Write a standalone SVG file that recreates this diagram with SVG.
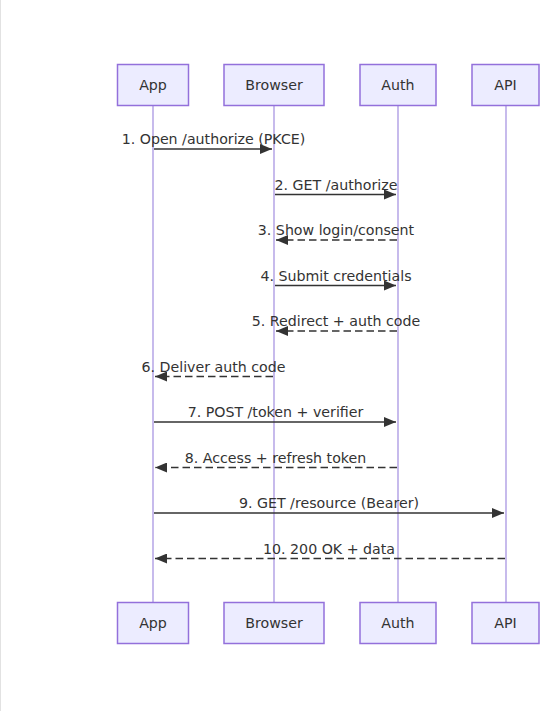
<svg xmlns="http://www.w3.org/2000/svg" width="560" height="711" viewBox="0 0 560 711">
<style>
.bg{fill:#ffffff}
.actor rect{fill:#ECECFF;stroke:#9370DB;stroke-width:1.5}
.actor text{font-family:"DejaVu Sans",Verdana,sans-serif;font-size:14.2px;fill:#333;text-anchor:middle;dominant-baseline:central}
.life{stroke:#a28de0;stroke-width:1.2}
.msg{stroke:#333;stroke-width:1.5;fill:none}
.dash{stroke-dasharray:7.5,4}
.lbl{font-family:"DejaVu Sans",Verdana,sans-serif;font-size:14.2px;fill:#333;text-anchor:middle}
</style>
<defs>
<marker id="arrow" viewBox="0 0 12 10" refX="12" refY="5" markerWidth="13" markerHeight="10" markerUnits="userSpaceOnUse" orient="auto">
<path d="M0,0 L12,5 L0,10 z" fill="#333"/>
</marker>
</defs>
<rect class="bg" x="0" y="0" width="560" height="711"/>
<line x1="0.5" y1="0" x2="0.5" y2="711" stroke="#e2e2e2" stroke-width="1"/>
<g id="lifelines">
<line class="life" x1="153" y1="105" x2="153" y2="602"/>
<line class="life" x1="274" y1="105" x2="274" y2="602"/>
<line class="life" x1="398" y1="105" x2="398" y2="602"/>
<line class="life" x1="506" y1="105" x2="506" y2="602"/>
</g>
<g id="app" class="actor"><rect x="117.5" y="64.5" width="71" height="41"/><text x="153" y="85">App</text></g>
<g id="browser" class="actor"><rect x="224" y="64.5" width="100" height="41"/><text x="274" y="85">Browser</text></g>
<g id="auth" class="actor"><rect x="360" y="64.5" width="76" height="41"/><text x="398" y="85">Auth</text></g>
<g id="api" class="actor"><rect x="472" y="64.5" width="67" height="41"/><text x="505.5" y="85">API</text></g>
<g id="app-bottom" class="actor"><rect x="117.5" y="602.5" width="71" height="41"/><text x="153" y="623">App</text></g>
<g id="browser-bottom" class="actor"><rect x="224" y="602.5" width="100" height="41"/><text x="274" y="623">Browser</text></g>
<g id="auth-bottom" class="actor"><rect x="360" y="602.5" width="76" height="41"/><text x="398" y="623">Auth</text></g>
<g id="api-bottom" class="actor"><rect x="472" y="602.5" width="67" height="41"/><text x="505.5" y="623">API</text></g>
<g id="connectors">
<line class="msg" x1="154" y1="149" x2="272" y2="149" marker-end="url(#arrow)"/>
<text class="lbl" x="213.5" y="144">1. Open /authorize (PKCE)</text>
<line class="msg" x1="275" y1="194.5" x2="396" y2="194.5" marker-end="url(#arrow)"/>
<text class="lbl" x="336" y="189.5">2. GET /authorize</text>
<line class="msg dash" x1="397" y1="240" x2="276" y2="240" marker-end="url(#arrow)"/>
<text class="lbl" x="336" y="235">3. Show login/consent</text>
<line class="msg" x1="275" y1="285.5" x2="396" y2="285.5" marker-end="url(#arrow)"/>
<text class="lbl" x="336" y="280.5">4. Submit credentials</text>
<line class="msg dash" x1="397" y1="331" x2="276" y2="331" marker-end="url(#arrow)"/>
<text class="lbl" x="336" y="326">5. Redirect + auth code</text>
<line class="msg dash" x1="273" y1="376.5" x2="155" y2="376.5" marker-end="url(#arrow)"/>
<text class="lbl" x="213.5" y="371.5">6. Deliver auth code</text>
<line class="msg" x1="154" y1="422" x2="396" y2="422" marker-end="url(#arrow)"/>
<text class="lbl" x="275.5" y="417">7. POST /token + verifier</text>
<line class="msg dash" x1="397" y1="467.5" x2="155" y2="467.5" marker-end="url(#arrow)"/>
<text class="lbl" x="275.5" y="462.5">8. Access + refresh token</text>
<line class="msg" x1="154" y1="513" x2="504" y2="513" marker-end="url(#arrow)"/>
<text class="lbl" x="329" y="508">9. GET /resource (Bearer)</text>
<line class="msg dash" x1="505" y1="558.5" x2="155" y2="558.5" marker-end="url(#arrow)"/>
<text class="lbl" x="329" y="553.5">10. 200 OK + data</text>
</g>
</svg>
